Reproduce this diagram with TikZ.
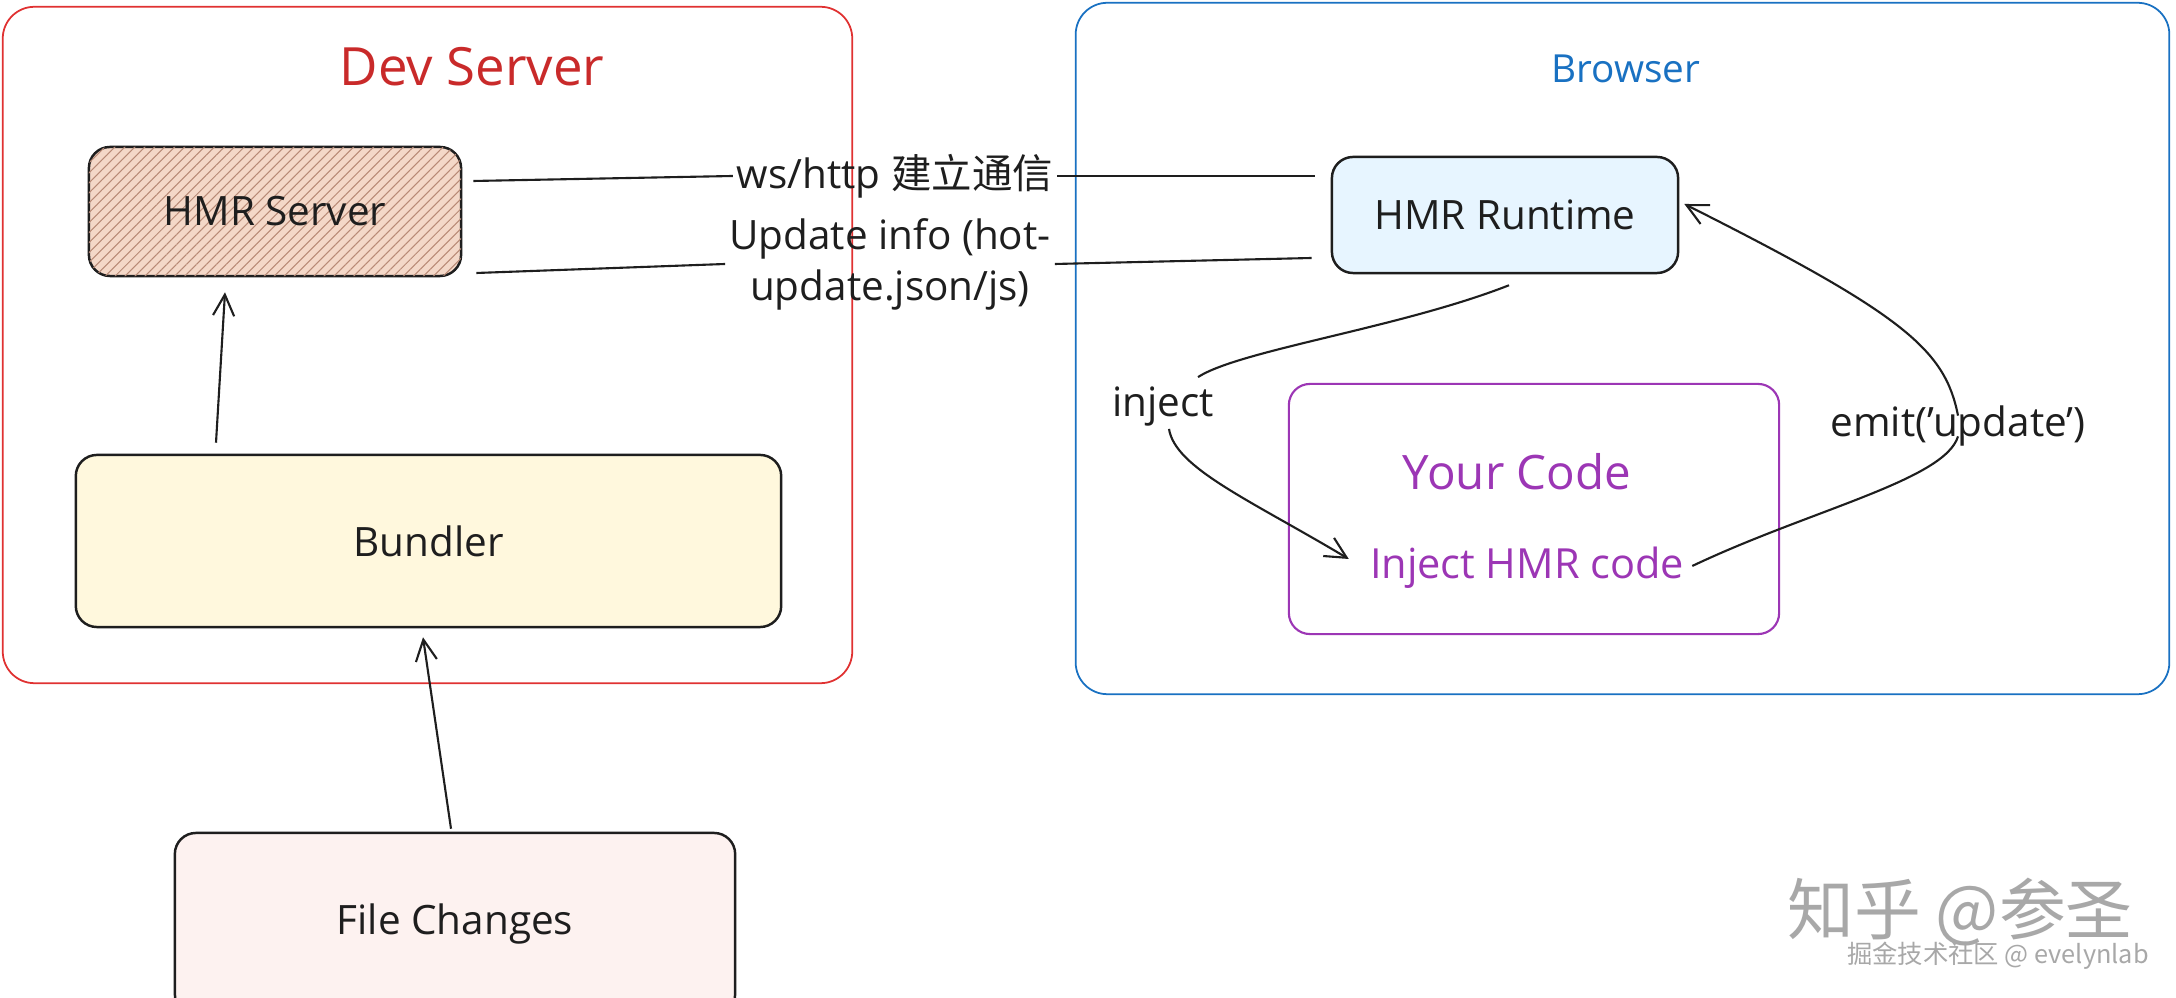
\documentclass[tikz,border=0pt]{standalone}
\usepackage{fontspec}
\setmainfont{Open Sans}
\newfontfamily\cjk{Noto Sans CJK SC}
\usetikzlibrary{arrows.meta,patterns.meta,calc}
\definecolor{ink}{HTML}{1E1E1E}
\definecolor{devred}{HTML}{E03131}
\definecolor{devtitle}{HTML}{C92A2A}
\definecolor{brblue}{HTML}{1971C2}
\definecolor{purp}{HTML}{9C36B5}
\definecolor{hmrsfill}{HTML}{F4D8C8}
\definecolor{hatch}{HTML}{B88A76}
\definecolor{hmrtfill}{HTML}{E7F5FF}
\definecolor{bundfill}{HTML}{FFF8DD}
\definecolor{fcfill}{HTML}{FDF2F0}
\definecolor{wm}{HTML}{A8A8A8}
\begin{document}
\begin{tikzpicture}[x=0.01cm,y=-0.01cm,
  box/.style={draw=ink, line width=0.7pt, rounded corners=6pt, inner sep=0pt, text=ink, font=\fontsize{11.5}{14}\selectfont},
  frame/.style={line width=0.5pt, rounded corners=9pt, inner sep=0pt},
  lbl/.style={text=ink, font=\fontsize{11.5}{14.5}\selectfont, inner sep=1pt, align=center},
  conn/.style={draw=ink, line width=0.6pt},
  arr/.style={conn, -{Straight Barb[length=6pt,width=6pt]}}]
\fill[white] (0,0) rectangle (2176,998);
\clip (0,0) rectangle (2176,998);
\useasboundingbox (0,0) rectangle (2176,998);

% frames
\node[frame, draw=devred, minimum width=8.49cm, minimum height=6.76cm] (dev) at (427.5,345) {};
\node[frame, draw=brblue, minimum width=10.93cm, minimum height=6.91cm] (br) at (1622.5,348.5) {};
\node[text=devtitle, font=\fontsize{15}{18}\selectfont, inner sep=1pt] (devt) at (472,67) {Dev Server};
\node[text=brblue, font=\fontsize{11}{13}\selectfont, inner sep=1pt] (brt) at (1626,69) {Browser};

% boxes
\node[box, fill=hmrsfill, minimum width=3.72cm, minimum height=1.29cm,
  postaction={pattern={Lines[angle=45,distance=2pt,line width=0.3pt]}, pattern color=hatch}] (hmrs) at (275,211.5) {};
\node[lbl] at (hmrs) {HMR Server};
\node[box, fill=bundfill, minimum width=7.05cm, minimum height=1.72cm] (bund) at (428.5,541) {Bundler};
\node[box, fill=fcfill, minimum width=5.60cm, minimum height=1.82cm] (fc) at (455,924) {File Changes};
\node[box, fill=hmrtfill, minimum width=3.46cm, minimum height=1.16cm] (hmrt) at (1505,215) {HMR Runtime};
\node[box, draw=purp, line width=0.6pt, minimum width=4.90cm, minimum height=2.50cm] (yc) at (1534,509) {};
\node[text=purp, font=\fontsize{13.5}{16}\selectfont, inner sep=1pt] (yct) at (1517,472) {Your Code};
\node[text=purp, font=\fontsize{11.8}{14}\selectfont, inner sep=1pt] (ihc) at (1527,568) {Inject HMR code};

% labels
\node[lbl] (ws) at (895,176) {ws/http {\cjk 建立通信}};
\node[lbl] (upd) at (890,264) {Update info (hot-\\update.json/js)};
\node[lbl] (inj) at (1163,407) {inject};
\node[lbl] (emit) at (1958,426) {emit('update')};

% connectors
\coordinate (w1) at ([shift={(11,-30.5)}]hmrs.east);
\coordinate (w2) at ([shift={(-16,-39)}]hmrt.west);
\draw[conn] (w1) -- (ws.west);
\draw[conn] (ws.east) -- (w2);
\coordinate (u1) at ([shift={(14,61.5)}]hmrs.east);
\coordinate (u2) at ([shift={(-19,43)}]hmrt.west);
\draw[conn] (u1) -- (upd.west);
\draw[conn] (upd.east) -- (u2);

\coordinate (b1) at ([shift={(-212.5,-11)}]bund.north);
\coordinate (b2) at ([shift={(-50,15)}]hmrs.south);
\draw[arr] (b1) -- (b2);
\coordinate (f1) at ([shift={(-4,-3)}]fc.north);
\coordinate (f2) at ([shift={(-5.5,9)}]bund.south);
\draw[arr] (f1) -- (f2);

\coordinate (r1) at ([shift={(4,11)}]hmrt.south);
\coordinate (i1) at ([shift={(35,-6)}]inj.north);
\draw[conn] (r1) .. controls (1400,328) and (1240,350) .. (i1);
\coordinate (ia) at ([shift={(-17,-9)}]ihc.west);
\coordinate (i2) at ([shift={(6,-2)}]inj.south);
\draw[arr] (i2) .. controls (1175,468) and (1250,500) .. (ia);
\coordinate (e1) at ([shift={(4,-2)}]ihc.east);
\draw[conn] (e1) .. controls (1810,510) and (1945,480) .. ([yshift=4]emit.south);
\coordinate (e2) at ([shift={(5,-11)}]hmrt.east);
\draw[arr] ([yshift=-4]emit.north) .. controls (1945,350) and (1905,315) .. (e2);

% watermark
\node[text=wm, font=\cjk\fontsize{19}{22}\selectfont, inner sep=0pt] (wm1) at (1960,912) {知乎 @参圣};
\node[text=wm, font=\cjk\fontsize{7.2}{9}\selectfont, inner sep=0pt] (wm2) at (1998,956) {掘金技术社区 @ evelynlab};
\end{tikzpicture}
\end{document}
